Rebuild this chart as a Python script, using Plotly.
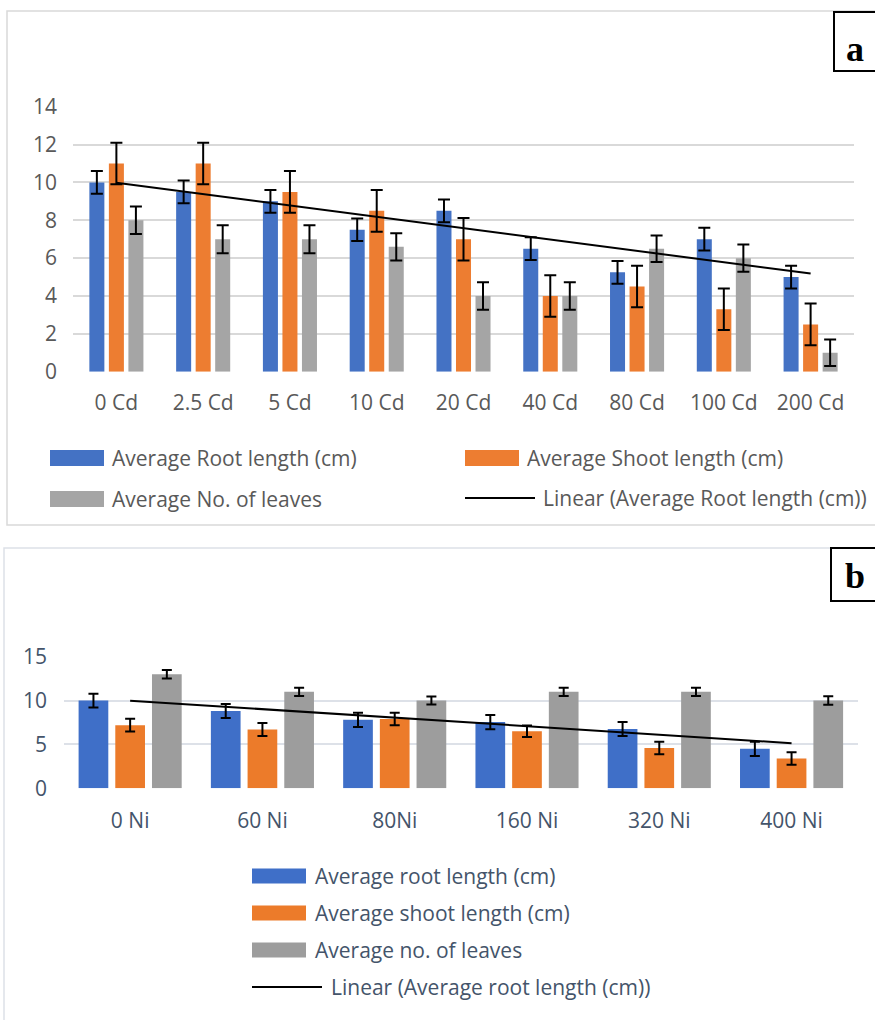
import numpy as np
import plotly.graph_objects as go

W, H = 875, 1020

# ---- Panel a: cadmium treatments ----
cd_levels = ["0 Cd", "2.5 Cd", "5 Cd", "10 Cd", "20 Cd", "40 Cd", "80 Cd", "100 Cd", "200 Cd"]
cd_root = [10.0, 9.5, 9.0, 7.5, 8.5, 6.5, 5.25, 7.0, 5.0]
cd_root_err = [0.6, 0.6, 0.6, 0.6, 0.6, 0.6, 0.6, 0.6, 0.6]
cd_shoot = [11.0, 11.0, 9.5, 8.5, 7.0, 4.0, 4.5, 3.3, 2.5]
cd_shoot_err = [1.1, 1.1, 1.1, 1.1, 1.12, 1.1, 1.1, 1.1, 1.1]
cd_leaves = [8.0, 7.0, 7.0, 6.6, 4.0, 4.0, 6.5, 6.0, 1.0]
cd_leaves_err = [0.73, 0.74, 0.74, 0.72, 0.73, 0.73, 0.7, 0.72, 0.7]
cd_yticks = [0, 2, 4, 6, 8, 10, 12, 14]

# ---- Panel b: nickel treatments ----
ni_levels = ["0 Ni", "60 Ni", "80Ni", "160 Ni", "320 Ni", "400 Ni"]
ni_root = [10.0, 8.8, 7.8, 7.55, 6.75, 4.5]
ni_root_err = [0.78, 0.8, 0.8, 0.81, 0.8, 0.81]
ni_shoot = [7.2, 6.7, 7.9, 6.5, 4.6, 3.4]
ni_shoot_err = [0.74, 0.74, 0.72, 0.65, 0.72, 0.72]
ni_leaves = [13.0, 11.0, 10.0, 11.0, 11.0, 10.0]
ni_leaves_err = [0.49, 0.47, 0.45, 0.47, 0.47, 0.49]
ni_yticks = [0, 5, 10, 15]

legend_a = ["Average Root length (cm)", "Average Shoot length (cm)",
            "Average No. of leaves", "Linear (Average Root length (cm))"]
legend_b = ["Average root length (cm)", "Average shoot length (cm)",
            "Average no. of leaves", "Linear (Average root length (cm))"]

COL_A = ["#4472C4", "#ED7D31", "#A5A5A5"]
COL_B = ["#3F6FC8", "#EC7B2A", "#9D9D9D"]
TXT_A = "#595959"
TXT_B = "#44546A"
FONT = "Open Sans"
FS = 21


def px_x(x):
    return x / W


def px_y(y):
    return 1 - y / H


def trend(values):
    xs = np.arange(len(values))
    k, b = np.polyfit(xs, values, 1)
    return k * xs + b


fig = go.Figure()


# bar slot geometry (in category units)
def offsets(slot, width):
    pad = (slot - width) / 2
    return [-1.5 * slot + pad + i * slot for i in range(3)]


wa, sa = 0.173, 0.225
wb, sb = 0.2245, 0.2774
off_a = offsets(sa, wa)
off_b = offsets(sb, wb)

series_a = [(cd_root, cd_root_err), (cd_shoot, cd_shoot_err), (cd_leaves, cd_leaves_err)]
for i, (vals, errs) in enumerate(series_a):
    fig.add_trace(go.Bar(
        x=cd_levels, y=vals, name=legend_a[i], xaxis="x", yaxis="y",
        width=wa, offset=off_a[i], marker=dict(color=COL_A[i], line=dict(width=0)),
        error_y=dict(type="data", array=errs, color="black", thickness=2, width=6),
        showlegend=False,
    ))
fig.add_trace(go.Scatter(
    x=cd_levels, y=trend(cd_root), mode="lines", xaxis="x", yaxis="y",
    line=dict(color="black", width=2), showlegend=False, name=legend_a[3],
))

series_b = [(ni_root, ni_root_err), (ni_shoot, ni_shoot_err), (ni_leaves, ni_leaves_err)]
for i, (vals, errs) in enumerate(series_b):
    fig.add_trace(go.Bar(
        x=ni_levels, y=vals, name=legend_b[i], xaxis="x2", yaxis="y2",
        width=wb, offset=off_b[i], marker=dict(color=COL_B[i], line=dict(width=0)),
        error_y=dict(type="data", array=errs, color="black", thickness=2, width=5),
        showlegend=False,
    ))
fig.add_trace(go.Scatter(
    x=ni_levels, y=trend(ni_root), mode="lines", xaxis="x2", yaxis="y2",
    line=dict(color="black", width=2), showlegend=False, name=legend_b[3],
))

shapes = []
annotations = []

# chart frames
shapes.append(dict(type="rect", xref="paper", yref="paper",
                   x0=px_x(7), x1=px_x(900), y0=px_y(525), y1=px_y(11),
                   line=dict(color="#D9D9D9", width=1.5), fillcolor="rgba(0,0,0,0)", layer="below"))
shapes.append(dict(type="rect", xref="paper", yref="paper",
                   x0=px_x(4), x1=px_x(900), y0=px_y(1040), y1=px_y(548),
                   line=dict(color="#DDE1E8", width=1.5), fillcolor="rgba(0,0,0,0)", layer="below"))

# panel letter boxes
for (x0, y0, y1, letter, cy) in [(834, 12, 71, "a", 49), (831, 548, 601, "b", 576)]:
    shapes.append(dict(type="rect", xref="paper", yref="paper",
                       x0=px_x(x0), x1=px_x(900), y0=px_y(y1), y1=px_y(y0),
                       line=dict(color="black", width=2), fillcolor="white"))
    annotations.append(dict(text="<b>%s</b>" % letter, xref="paper", yref="paper",
                            x=px_x(855), y=px_y(cy), xanchor="center", yanchor="middle",
                            showarrow=False,
                            font=dict(family="Liberation Serif", size=36, color="black")))


def legend_entry(kind, color, label, x0, x1, yc, tx, txtcolor, h=16):
    if kind == "bar":
        shapes.append(dict(type="rect", xref="paper", yref="paper",
                           x0=px_x(x0), x1=px_x(x1), y0=px_y(yc + h / 2), y1=px_y(yc - h / 2),
                           line=dict(width=0), fillcolor=color))
    else:
        shapes.append(dict(type="line", xref="paper", yref="paper",
                           x0=px_x(x0), x1=px_x(x1), y0=px_y(yc), y1=px_y(yc),
                           line=dict(color=color, width=2)))
    annotations.append(dict(text=label, xref="paper", yref="paper",
                            x=px_x(tx), y=px_y(yc), xanchor="left", yanchor="middle",
                            showarrow=False, font=dict(family=FONT, size=FS, color=txtcolor)))


legend_entry("bar", COL_A[0], legend_a[0], 50, 104, 458, 110, TXT_A)
legend_entry("bar", COL_A[1], legend_a[1], 465, 519, 458, 525, TXT_A)
legend_entry("bar", COL_A[2], legend_a[2], 50, 104, 499, 110, TXT_A)
legend_entry("line", "black", legend_a[3], 465, 535, 498, 541, TXT_A)

legend_entry("bar", COL_B[0], legend_b[0], 252, 306, 876, 313, TXT_B, 15)
legend_entry("bar", COL_B[1], legend_b[1], 252, 306, 913, 313, TXT_B, 15)
legend_entry("bar", COL_B[2], legend_b[2], 252, 306, 950, 313, TXT_B, 15)
legend_entry("line", "black", legend_b[3], 252, 322, 987, 329, TXT_B)

fig.update_layout(
    width=W, height=H,
    margin=dict(l=0, r=0, t=0, b=0, autoexpand=False),
    paper_bgcolor="white", plot_bgcolor="white",
    barmode="overlay",
    showlegend=False,
    shapes=shapes,
    annotations=annotations,
    xaxis=dict(domain=[px_x(73), px_x(854)], anchor="y", type="category", automargin=False,
               range=[-0.5, len(cd_levels) - 0.5], showgrid=False, showline=False,
               zeroline=False, ticks="", ticklabelstandoff=16,
               tickfont=dict(family=FONT, size=FS, color=TXT_A)),
    yaxis=dict(domain=[px_y(371.7), px_y(106.7)], anchor="x", range=[0, 14], automargin=False,
               tickvals=cd_yticks, showgrid=True, gridcolor="#D9D9D9", gridwidth=1.5,
               zeroline=False, showline=False, ticks="", ticklabelstandoff=15,
               tickfont=dict(family=FONT, size=FS, color=TXT_A)),
    xaxis2=dict(domain=[px_x(64), px_x(857.7)], anchor="y2", type="category", automargin=False,
                range=[-0.5, len(ni_levels) - 0.5], showgrid=False, showline=False,
                zeroline=False, ticks="", ticklabelstandoff=18,
                tickfont=dict(family=FONT, size=FS, color=TXT_B)),
    yaxis2=dict(domain=[px_y(788.3), px_y(656.7)], anchor="x2", range=[0, 15], automargin=False,
                tickvals=ni_yticks, showgrid=True, gridcolor="#DDE1E8", gridwidth=1.5,
                zeroline=False, showline=False, ticks="", ticklabelstandoff=16,
                tickfont=dict(family=FONT, size=FS, color=TXT_B)),
)

fig.write_html("out.html")
